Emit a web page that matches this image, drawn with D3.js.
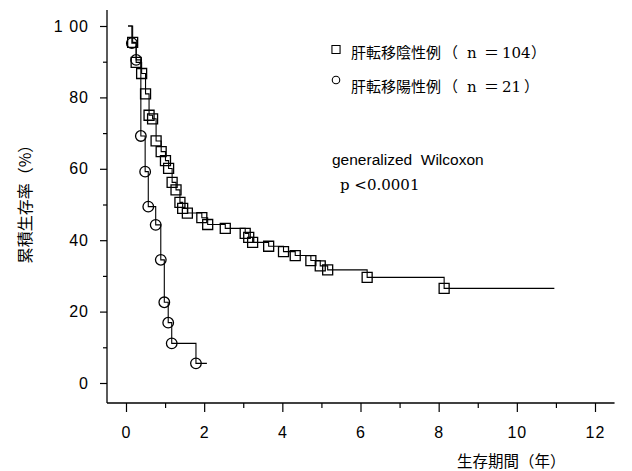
<!DOCTYPE html>
<html>
<head>
<meta charset="utf-8">
<script src="https://cdn.jsdelivr.net/npm/d3@7"></script>
<style>
  body { margin: 0; background: #fff; }
  svg { display: block; }
</style>
</head>
<body>
<div id="viz"></div>
<script>
// Kaplan-Meier style curves
const startTime = 0.05;
const negTime = [0.17, 0.26, 0.40, 0.50, 0.59, 0.68, 0.77, 0.90, 1.01, 1.09, 1.18, 1.28, 1.38, 1.45, 1.57, 1.94, 2.09, 2.54, 3.05, 3.14, 3.24, 3.65, 4.03, 4.33, 4.73, 4.97, 5.16, 6.17, 8.14];
const negSurv = [95.4, 89.8, 86.7, 81.0, 75.0, 74.0, 67.8, 64.8, 62.3, 60.1, 56.2, 54.1, 50.6, 48.9, 47.6, 46.3, 44.4, 43.3, 41.9, 40.8, 39.4, 38.3, 36.8, 35.7, 34.3, 32.8, 31.7, 29.6, 26.5];
const negEnd = 10.96;

const posTime = [0.15, 0.26, 0.38, 0.49, 0.57, 0.76, 0.89, 0.98, 1.08, 1.17, 1.79];
const posSurv = [95.2, 90.5, 69.2, 59.2, 49.4, 44.3, 34.5, 22.6, 16.9, 11.1, 5.5];
const posEnd = 2.07;

const xTicks = [0, 2, 4, 6, 8, 10, 12];
const xMinor = [1, 3, 5, 7, 9, 11];
const yTicks = [0, 20, 40, 60, 80, 100];
const yMinor = [10, 30, 50, 70, 90];

const groupNames = ['肝転移陰性例', '肝転移陽性例'];
const groupN = ['104', '21'];

const width = 632, height = 471;
const svg = d3.select('#viz').append('svg')
  .attr('width', width).attr('height', height);
svg.append('rect').attr('width', width).attr('height', height).attr('fill', '#fff');

const x = d3.scaleLinear().domain([0, 12]).range([126, 595]);
const y = d3.scaleLinear().domain([0, 100]).range([383, 26]);
const axisX = 107, axisY = 403;
const sans = '"Liberation Sans", Arial, sans-serif';
const cjk = '"Noto Sans CJK JP", sans-serif';
const serif = '"DejaVu Serif", serif';

// y axis
const gy = svg.append('g').attr('transform', `translate(${axisX},0)`)
  .call(d3.axisLeft(y).tickValues(yTicks).tickSize(7).tickPadding(11)
    .tickFormat(d => d === 100 ? '1 00' : d));
gy.select('.domain').remove();
gy.selectAll('text').attr('font-family', sans).attr('font-size', 16)
  .attr('letter-spacing', 1).style('white-space', 'pre');
gy.append('g').call(d3.axisLeft(y).tickValues(yMinor).tickSize(4).tickFormat(''))
  .select('.domain').remove();
gy.append('line').attr('y1', y(104.5)).attr('y2', axisY).attr('stroke', '#000').attr('stroke-width', 1.3);

// x axis
const gx = svg.append('g').attr('transform', `translate(0,${axisY})`)
  .call(d3.axisBottom(x).tickValues(xTicks).tickSize(9).tickPadding(15));
gx.select('.domain').remove();
gx.selectAll('text').attr('font-family', sans).attr('font-size', 16).attr('letter-spacing', 1);
gx.append('g').call(d3.axisBottom(x).tickValues(xMinor).tickSize(5).tickFormat(''))
  .select('.domain').remove();
gx.append('line').attr('x1', axisX).attr('x2', x(12.5)).attr('stroke', '#000').attr('stroke-width', 1.3);
svg.selectAll('.tick line').attr('stroke-width', 1.2);

// axis titles
svg.append('text')
  .attr('transform', 'translate(25,200) rotate(-90)')
  .attr('text-anchor', 'middle').attr('dy', '0.35em')
  .attr('font-family', cjk).attr('font-size', 16)
  .text('累積生存率（%）');
svg.append('text')
  .attr('x', 457).attr('y', 467)
  .attr('font-family', cjk).attr('font-size', 15.5)
  .text('生存期間（年）');

// step curves
const stepLine = d3.line().x(d => x(d[0])).y(d => y(d[1])).curve(d3.curveStepAfter);

function curvePoints(times, surv, end) {
  const pts = [[startTime, 100]];
  times.forEach((t, i) => pts.push([t, surv[i]]));
  pts.push([end, surv[surv.length - 1]]);
  return pts;
}

svg.append('path')
  .attr('d', stepLine(curvePoints(negTime, negSurv, negEnd)))
  .attr('fill', 'none').attr('stroke', '#000').attr('stroke-width', 1.1);
svg.append('path')
  .attr('d', stepLine(curvePoints(posTime, posSurv, posEnd)))
  .attr('fill', 'none').attr('stroke', '#000').attr('stroke-width', 1.1);

const square = d3.symbol().type(d3.symbolSquare).size(100);
const circle = d3.symbol().type(d3.symbolCircle).size(88);

svg.append('g').selectAll('path')
  .data(negTime.map((t, i) => [t, negSurv[i]]))
  .join('path')
  .attr('d', square)
  .attr('transform', d => `translate(${x(d[0])},${y(d[1])})`)
  .attr('fill', 'none').attr('stroke', '#000').attr('stroke-width', 1.3);

svg.append('g').selectAll('path')
  .data(posTime.map((t, i) => [t, posSurv[i]]))
  .join('path')
  .attr('d', circle)
  .attr('transform', d => `translate(${x(d[0])},${y(d[1])})`)
  .attr('fill', 'none').attr('stroke', '#000').attr('stroke-width', 1.3);

// legend
const legend = svg.append('g');
legend.append('path').attr('d', d3.symbol().type(d3.symbolSquare).size(66))
  .attr('transform', 'translate(336,49.5)')
  .attr('fill', 'none').attr('stroke', '#000').attr('stroke-width', 1.1);
legend.append('path').attr('d', d3.symbol().type(d3.symbolCircle).size(44))
  .attr('transform', 'translate(336,80)')
  .attr('fill', 'none').attr('stroke', '#000').attr('stroke-width', 1.1);

const legendY = [57.5, 92];
groupNames.forEach((name, i) => {
  const t = legend.append('text').attr('y', legendY[i]).attr('font-size', 15);
  t.append('tspan').attr('x', 351).attr('font-family', cjk).text(name);
  t.append('tspan').attr('x', 443).attr('font-family', cjk).text('（');
  t.append('tspan').attr('x', 467).attr('font-family', serif).text('n');
  t.append('tspan').attr('x', 484).attr('font-family', cjk).text('＝');
  t.append('tspan').attr('x', 502).attr('font-family', serif).text(groupN[i]);
  t.append('tspan').attr('x', i === 0 ? 531 : 524).attr('font-family', cjk).text('）');
});

svg.append('text')
  .attr('x', 332).attr('y', 165)
  .attr('font-family', sans).attr('font-size', 15.5)
  .style('white-space', 'pre')
  .text('generalized  Wilcoxon');
svg.append('text')
  .attr('x', 340).attr('y', 190)
  .attr('font-family', serif).attr('font-size', 15)
  .text('p <0.0001');
</script>
</body>
</html>
